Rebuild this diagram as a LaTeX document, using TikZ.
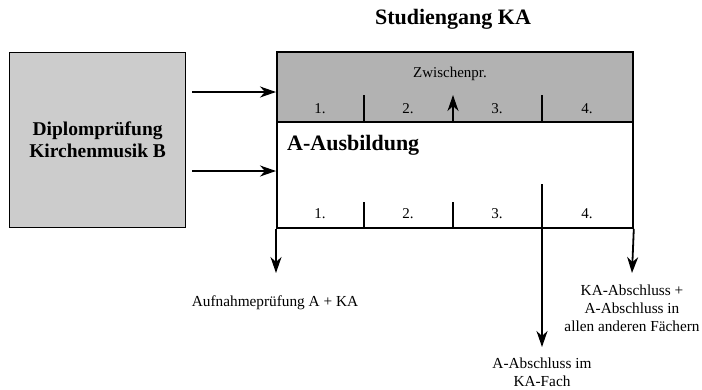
\documentclass[tikz,border=0pt]{standalone}
\usepackage{fontspec}
\setmainfont{Liberation Serif}
\usetikzlibrary{arrows.meta}
\begin{document}
\begin{tikzpicture}[x=1pt,y=-1pt,
  edge/.style={line width=1.8pt},
  arr/.style={line width=1.8pt,-{Stealth[length=16pt,width=11pt,inset=5pt]}},
  lbl/.style={font=\fontsize{15.3}{18}\selectfont,align=center,inner sep=0pt},
  num/.style={font=\fontsize{15}{17}\selectfont,inner sep=0pt},
  bold/.style={font=\fontsize{22}{25}\selectfont\bfseries,align=center,inner sep=0pt},
  boldb/.style={font=\fontsize{19.5}{22}\selectfont\bfseries,align=center,inner sep=0pt}]
\useasboundingbox (0,0) rectangle (702,389);
% left box
\node[draw,line width=1.3pt,fill=black!20,minimum width=176pt,minimum height=175pt,anchor=north west,
  boldb] (dip) at (9,52) {Diplomprüfung\\Kirchenmusik B};
% main box
\node[draw,edge,fill=black!30,minimum width=356pt,minimum height=70pt,anchor=north west,inner sep=0pt] (grey) at (276,51) {};
\node[draw,edge,fill=white,minimum width=356pt,minimum height=106pt,anchor=north west,inner sep=0pt] (white) at (276,121) {};
\node[bold] (stud) at (453,19) {Studiengang KA};
\node[bold,anchor=west] (aaus) at (287,145) {A-Ausbildung};
\node[num] (zw) at (450,74) {Zwischenpr.};
% top ticks
\coordinate (t1) at (364,95); \coordinate (t1b) at (364,121);
\coordinate (t3) at (542,95); \coordinate (t3b) at (542,121);
\coordinate (t2) at (453,95); \coordinate (t2b) at (453,121);
\draw[edge] (t1) -- (t1b);
\draw[edge] (t3) -- (t3b);
\draw[arr] (t2b) -- (t2);
\node[num] (g1) at (320,109) {1.};
\node[num] (g2) at (408,109) {2.};
\node[num] (g3) at (497,109) {3.};
\node[num] (g4) at (587,109) {4.};
% bottom ticks
\coordinate (b1) at (364,202); \coordinate (b1b) at (364,227);
\coordinate (b2) at (453,202); \coordinate (b2b) at (453,227);
\coordinate (b3) at (542,184); \coordinate (b3e) at (542,347);
\draw[edge] (b1) -- (b1b);
\draw[edge] (b2) -- (b2b);
\draw[arr] (b3) -- (b3e);
\node[num] (w1) at (320,214) {1.};
\node[num] (w2) at (408,214) {2.};
\node[num] (w3) at (497,214) {3.};
\node[num] (w4) at (587,214) {4.};
% side arrows
\coordinate (l1) at (192,92); \coordinate (l2) at (192,171);
\draw[arr] (l1) -- (grey.west |- l1);
\draw[arr] (l2) -- (white.west |- l2);
% down arrows
\coordinate (d1) at (276,273); \coordinate (d2) at (632,273);
\draw[arr] (white.south west) -- (d1);
\draw[arr] (white.south east) -- (d2);
% labels
\node[lbl] (auf) at (275,303) {Aufnahmeprüfung A + KA};
\node[lbl] (kaab) at (632,308) {KA-Abschluss +\\A-Abschluss in\\allen anderen Fächern};
\node[lbl] (aab) at (542,372) {A-Abschluss im\\KA-Fach};
\end{tikzpicture}
\end{document}
